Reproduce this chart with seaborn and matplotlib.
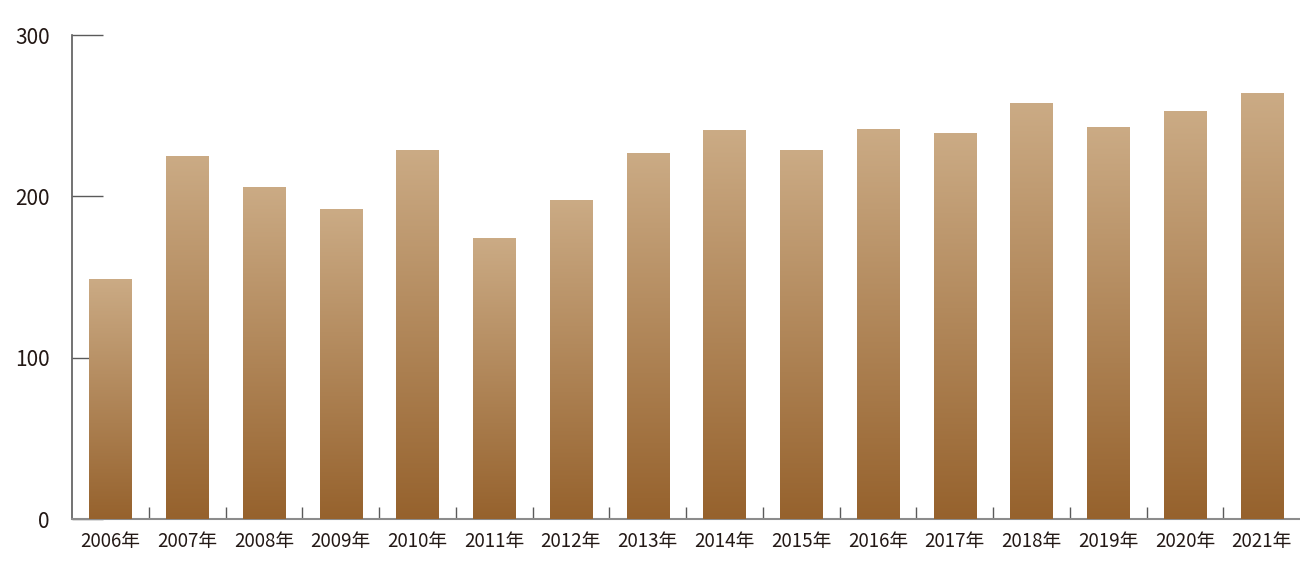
import matplotlib
matplotlib.use("Agg")
from matplotlib import pyplot as plt
from matplotlib.colors import LinearSegmentedColormap
from matplotlib.ticker import FixedLocator
import numpy as np
import pandas as pd
import seaborn as sns

years = ['2006年', '2007年', '2008年', '2009年', '2010年', '2011年', '2012年', '2013年',
         '2014年', '2015年', '2016年', '2017年', '2018年', '2019年', '2020年', '2021年']
values = [149, 225, 206, 192, 229, 174, 198, 227, 241, 229, 242, 239, 258, 243, 253, 264]
y_ticks = [0, 100, 200, 300]

sns.set_style("white")
plt.rcParams['font.family'] = ['Noto Sans CJK JP', 'DejaVu Sans']
text_color = '#231815'

df = pd.DataFrame({'year': years, 'value': values})

fig = plt.figure(figsize=(13, 5.78), dpi=100)
ax = fig.add_axes([72 / 1300, 59 / 578, 1 - 72 / 1300, (519 - 35) / 578])

sns.barplot(data=df, x='year', y='value', color='#b08050', width=0.55, ax=ax,
            saturation=1)

# gradient fill per bar (light top -> dark bottom)
cmap = LinearSegmentedColormap.from_list('bronze', ['#96622d', '#cbab85'])
grad = np.linspace(0, 1, 256).reshape(-1, 1)
for bar in ax.patches:
    x0, y0 = bar.get_x(), bar.get_y()
    w, h = bar.get_width(), bar.get_height()
    bar.set_facecolor('none')
    bar.set_edgecolor('none')
    im = ax.imshow(grad, cmap=cmap, origin='lower', aspect='auto',
                   extent=[x0, x0 + w, y0, y0 + h], zorder=3)
    im.set_clip_path(bar)

ax.set_xlim(-0.5, len(years) - 0.5)
ax.set_ylim(0, 300)
ax.set_yticks(y_ticks)
ax.set_xlabel('')
ax.set_ylabel('')

for side in ['top', 'right']:
    ax.spines[side].set_visible(False)
ax.spines['left'].set_color('#5a5a5a')
ax.spines['left'].set_linewidth(1.2)
ax.spines['bottom'].set_color('#8c8c8c')
ax.spines['bottom'].set_linewidth(1.5)

ax.tick_params(axis='y', direction='in', length=22, width=1.0, color='#5a5a5a',
               pad=16, labelsize=15, labelcolor=text_color, left=True)
for lab in ax.get_yticklabels():
    lab.set_va('center_baseline')
ax.tick_params(axis='x', which='major', length=0, pad=9, labelsize=13.5,
               labelcolor=text_color)
ax.xaxis.set_minor_locator(FixedLocator(np.arange(0.5, len(years) - 0.5, 1)))
ax.tick_params(axis='x', which='minor', direction='in', length=9, width=1.0,
               color='#5a5a5a', bottom=True)

fig.savefig('out.png', dpi=100)
